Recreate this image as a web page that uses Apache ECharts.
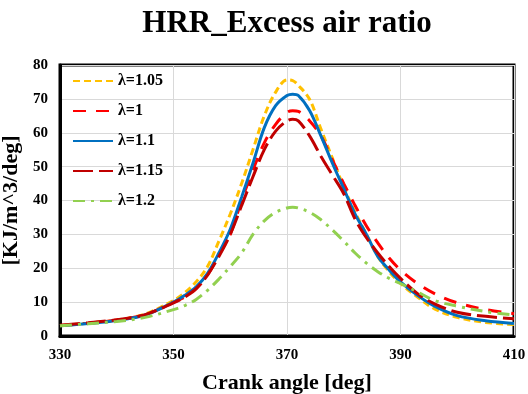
<!DOCTYPE html>
<html><head><meta charset="utf-8">
<script src="https://cdn.jsdelivr.net/npm/echarts@6/dist/echarts.min.js"></script>
<style>html,body{margin:0;padding:0;background:#fff}#c{width:528px;height:394px}</style>
</head><body><div id="c"></div>
<script>
const xs = [330,335,340,345,350,352,354,356,358,360,362,364,366,368,370,371,372,374,376,378,380,382,384,386,388,390,393,396,400,405,410];
const s105 = [3.0,3.8,4.7,6.5,10.5,12.8,16,20.5,28,36,45,55,65,72,75.6,75.4,74,69.8,61,52.5,44,36.5,30,23.5,19,15.5,11.5,8,5.5,4,3.4];
const s100 = [3.1,3.8,4.7,6.3,10,11.5,14,18,24,30,40,49,57,62.5,66,66.5,66.3,63.5,59,52,45,38.5,32.5,27.5,23,19.5,15.5,12.5,9.8,7.8,6.6];
const s110 = [3.0,3.7,4.6,6.2,10,12,14.5,18.5,24.5,31.5,41,51,61.5,68,71,71.4,71,66.5,59,51,43.5,36,30,23.5,19.5,16,12,8.8,6,4.5,3.7];
const s115 = [3.2,3.9,4.8,6.3,9.8,11.5,14,18,23.5,30,38.5,47,55,60.5,63.5,64,63.5,59,53,47.5,42,34.5,29,24.5,20.5,17,12.5,9.5,7,5.8,5.1];
const s120 = [3.0,3.6,4.3,5.5,7.8,9,10.8,13.5,16.8,20.5,24.5,30,34,36.5,37.8,38,37.8,36.5,34.3,31.3,28,24.5,21.5,19,17,15.5,13,10.5,8.8,7.2,6.2];
const names = ['λ=1.05','λ=1','λ=1.1','λ=1.15','λ=1.2'];
const xTicks = [330,350,370,390,410];

const pair = arr => xs.map((x,i)=>[x,arr[i]]);
const font = '"Liberation Serif", "Times New Roman", serif';
function ser(name, data, color, type){
  return {name, type:'line', data:pair(data), smooth:0.35, showSymbol:false, symbol:'none',
    lineStyle:{color, width:3, type, cap:'butt'}, itemStyle:{color}, z: 3};
}
const chart = echarts.init(document.getElementById('c'));
chart.setOption({
  animation:false,
  title:{text:'HRR_Excess air ratio', left:282, textAlign:'center', top:3,
    textStyle:{fontFamily:font, fontWeight:'bold', fontSize:31, color:'#000'}},
  grid:{left:60, right:14, top:65, bottom:58, show:true, borderColor:'#000', borderWidth:3,
    outerBoundsMode:'none', containLabel:false},
  legend:{orient:'vertical', left:72, top:73, padding:0, itemWidth:40, itemHeight:14, itemGap:14,
    itemStyle:{opacity:0},
    textStyle:{fontFamily:font, fontWeight:'bold', fontSize:16, color:'#000'}, data:names},
  xAxis:{type:'value', min:330, max:410, interval:20,
    name:'Crank angle [deg]', nameLocation:'middle', nameGap:36,
    nameTextStyle:{fontFamily:font, fontWeight:'bold', fontSize:22, color:'#000'},
    axisLine:{lineStyle:{color:'#000', width:3}}, axisTick:{show:false},
    axisLabel:{fontFamily:font, fontWeight:'bold', fontSize:15, color:'#000', margin:12,
      formatter:v=>xTicks.includes(v)?String(v):''},
    splitLine:{show:true, lineStyle:{color:'#d9d9d9', width:1}}},
  yAxis:{type:'value', min:0, max:80, interval:10,
    name:'[KJ/m^3/deg]', nameLocation:'middle', nameGap:34,
    nameTextStyle:{fontFamily:font, fontWeight:'bold', fontSize:22, color:'#000'},
    axisLine:{show:true, lineStyle:{color:'#000', width:3}}, axisTick:{show:false},
    axisLabel:{fontFamily:font, fontWeight:'bold', fontSize:15, color:'#000', margin:12},
    splitLine:{show:true, lineStyle:{color:'#d9d9d9', width:1}}},
  series:[
    ser(names[0], s105, '#FFC000', [7,4]),
    ser(names[1], s100, '#FF0000', [13,10]),
    ser(names[2], s110, '#0070C0', 'solid'),
    ser(names[3], s115, '#C00000', [20,6]),
    ser(names[4], s120, '#92D050', [12,6,3,6])
  ]
});
</script></body></html>
